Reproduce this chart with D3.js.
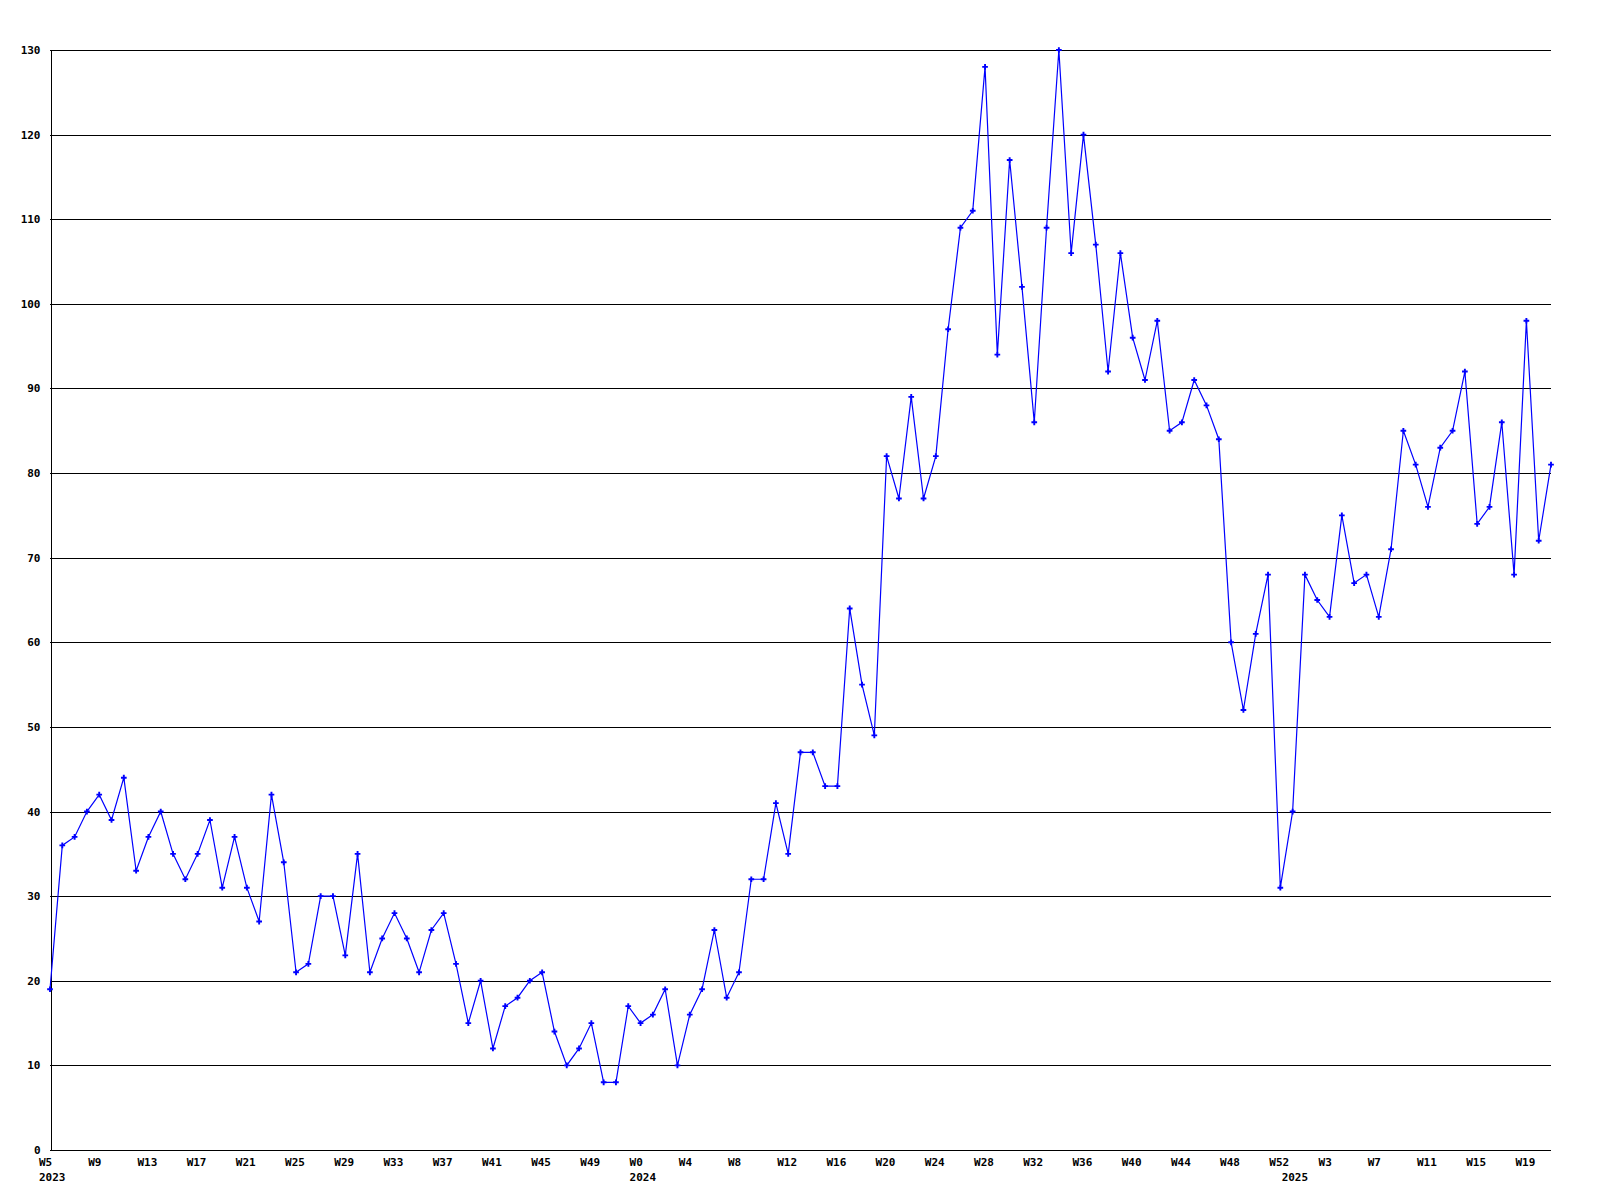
<!DOCTYPE html>
<html>
<head>
<meta charset="utf-8">
<script src="https://cdn.jsdelivr.net/npm/d3@7"></script>
<style>
  html, body { margin: 0; padding: 0; background: #ffffff; }
  svg { display: block; }
  text { font-family: "DejaVu Sans Mono", "Liberation Mono", monospace; font-weight: bold; font-size: 11px; fill: #000; }
</style>
</head>
<body>
<svg id="chart" width="1600" height="1200"></svg>
<script>
// ---- data ----
const weeks2023 = ["W5","W6","W7","W8","W9","W10","W11","W12","W13","W14","W15","W16","W17","W18","W19","W20","W21","W22","W23","W24","W25","W26","W27","W28","W29","W30","W31","W32","W33","W34","W35","W36","W37","W38","W39","W40","W41","W42","W43","W44","W45","W46","W47","W48","W49","W50","W51","W52"];
const weeks2024 = ["W0","W1","W2","W3","W4","W5","W6","W7","W8","W9","W10","W11","W12","W13","W14","W15","W16","W17","W18","W19","W20","W21","W22","W23","W24","W25","W26","W27","W28","W29","W30","W31","W32","W33","W34","W35","W36","W37","W38","W39","W40","W41","W42","W43","W44","W45","W46","W47","W48","W49","W50","W51","W52"];
const weeks2025 = ["W0","W1","W2","W3","W4","W5","W6","W7","W8","W9","W10","W11","W12","W13","W14","W15","W16","W17","W18","W19","W20","W21"];

const values2023 = [19,36,37,40,42,39,44,33,37,40,35,32,35,39,31,37,31,27,42,34,21,22,30,30,23,35,21,25,28,25,21,26,28,22,15,20,12,17,18,20,21,14,10,12,15,8,8,17];
const values2024 = [15,16,19,10,16,19,26,18,21,32,32,41,35,47,47,43,43,64,55,49,82,77,89,77,82,97,109,111,128,94,117,102,86,109,130,106,120,107,92,106,96,91,98,85,86,91,88,84,60,52,61,68,31];
const values2025 = [40,68,65,63,75,67,68,63,71,85,81,76,83,85,92,74,76,86,68,98,72,81];

const yTicks = [0,10,20,30,40,50,60,70,80,90,100,110,120,130];

// ---- build table ----
const data = [];
[[2023, weeks2023, values2023], [2024, weeks2024, values2024], [2025, weeks2025, values2025]].forEach(([yr, wk, vals]) => {
  wk.forEach((w, i) => data.push({ key: yr + "-" + w, year: yr, week: w, value: vals[i], firstOfYear: i === 0 }));
});

// ---- layout ----
const mLeft = 50, mRight = 1551, mTop = 50, mBottom = 1150;
const svg = d3.select("#chart");

const x = d3.scalePoint().domain(data.map(d => d.key)).range([mLeft, mRight]);
const y = d3.scaleLinear().domain([0, 130]).range([mBottom, mTop]);

// gridlines
svg.append("g")
  .selectAll("line")
  .data(yTicks)
  .join("line")
  .attr("x1", mLeft).attr("x2", mRight)
  .attr("y1", d => Math.round(y(d)) + 0.5).attr("y2", d => Math.round(y(d)) + 0.5)
  .attr("stroke", "#000").attr("stroke-width", 1)
  .attr("shape-rendering", "crispEdges");

// y axis
const yAxis = d3.axisLeft(y).tickValues(yTicks).tickSize(0).tickPadding(10);
const gy = svg.append("g").attr("transform", `translate(${mLeft + 0.5},0)`).call(yAxis);
gy.select(".domain").attr("stroke", "#000").attr("shape-rendering", "crispEdges");
gy.selectAll("text").style("font-family", "DejaVu Sans Mono, monospace").style("font-weight", "bold").style("font-size", "11px").attr("fill", "#000");

// x tick labels (every 4th week)
const tickData = data.filter((d, i) => i % 4 === 0);
svg.append("g")
  .selectAll("text")
  .data(tickData)
  .join("text")
  .attr("x", d => x(d.key) - 11)
  .attr("y", 1166)
  .attr("text-anchor", "start")
  .text(d => d.week);

// year labels
svg.append("g")
  .selectAll("text")
  .data(data.filter(d => d.firstOfYear))
  .join("text")
  .attr("x", d => x(d.key) - 11)
  .attr("y", 1181)
  .attr("text-anchor", "start")
  .text(d => d.year);

// line
const line = d3.line().x(d => x(d.key)).y(d => y(d.value));
svg.append("path")
  .datum(data)
  .attr("d", line)
  .attr("fill", "none")
  .attr("stroke", "#0000ff")
  .attr("stroke-width", 1.2);

// markers
const sym = d3.symbol().type(d3.symbolCross).size(18);
svg.append("g")
  .selectAll("path")
  .data(data)
  .join("path")
  .attr("transform", d => `translate(${x(d.key)},${y(d.value)})`)
  .attr("d", sym)
  .attr("fill", "#0000ff");
</script>
</body>
</html>
